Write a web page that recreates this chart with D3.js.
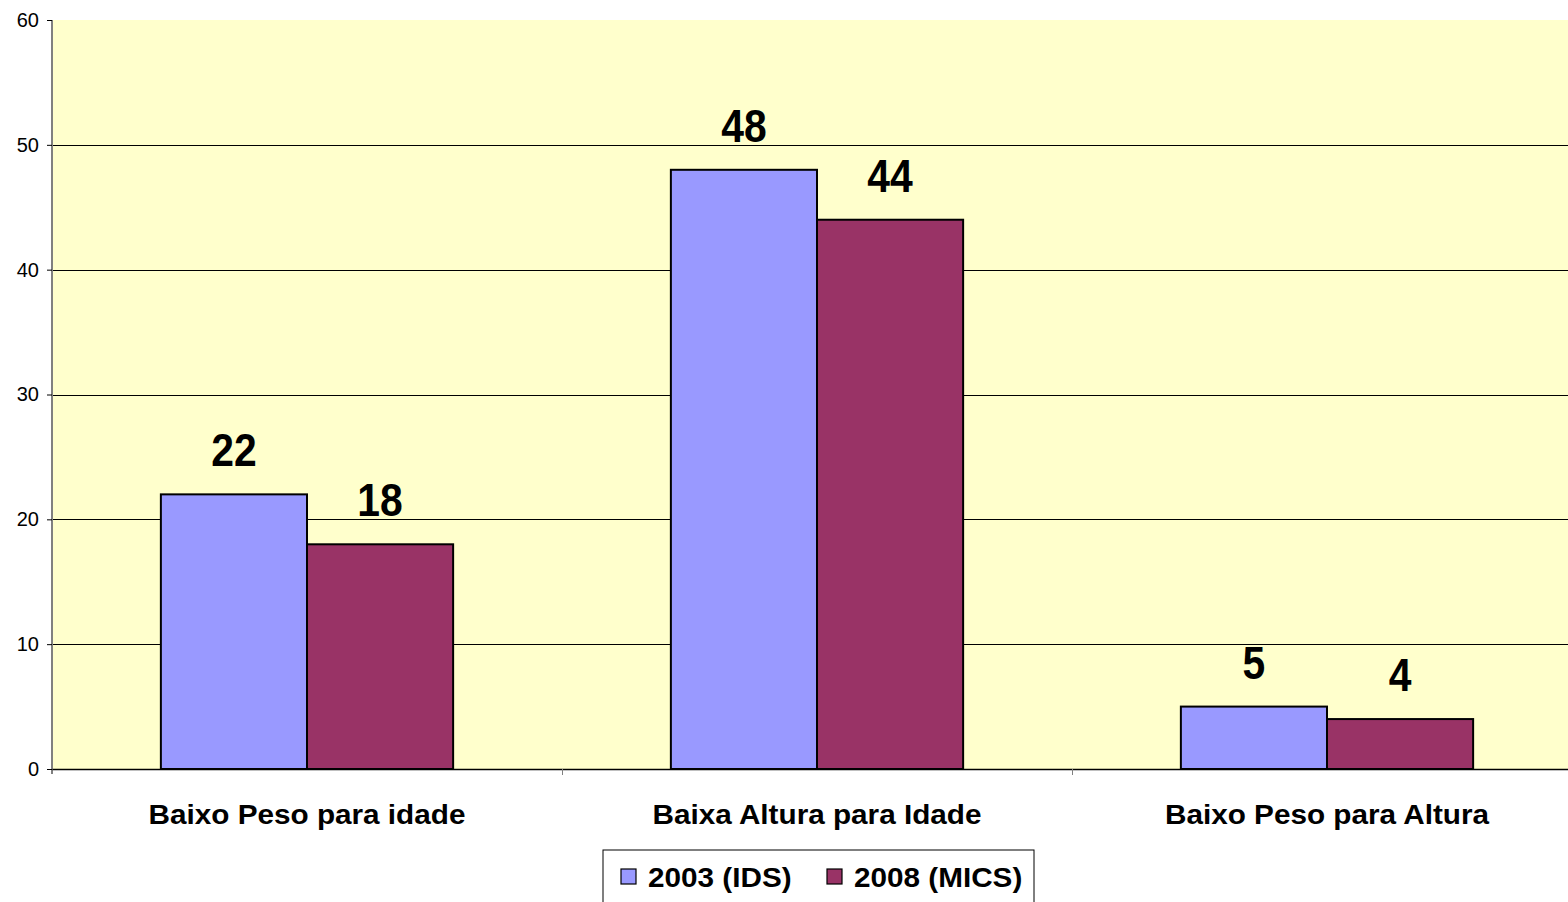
<!DOCTYPE html>
<html>
  <head>
    <meta charset="utf-8">
    <script src="https://d3js.org/d3.v7.min.js"></script>
    <style type="text/css">
      body { margin: 0; background: #fff; }
      svg { display: block; font-family: Arial, "Liberation Sans", sans-serif; }
    </style>
  </head>
  <body>
    <div id="chart"></div>
    <script type="text/javascript">
      var categories = ["Baixo Peso para idade", "Baixa Altura para Idade", "Baixo Peso para Altura"];
      var seriesNames = ["2003 (IDS)", "2008 (MICS)"];
      var values2003 = [22, 48, 5];
      var values2008 = [18, 44, 4];
      var yTicks = [0, 10, 20, 30, 40, 50, 60];
      var colors = ["#9999FF", "#993366"];

      var width = 1568, height = 902,
          margin = {top: 20, left: 52};
      // plot runs a bit past the right edge of the picture
      var plotW = 1530,
          plotH = 749;

      var svg = d3.select("#chart").append("svg")
        .attr("width", width)
        .attr("height", height);

      var g = svg.append("g")
        .attr("transform", "translate(" + margin.left + "," + margin.top + ")");

      var x0 = d3.scaleBand().domain(categories).range([0, plotW]);
      var x1 = d3.scaleBand().domain(seriesNames)
        .range([0, x0.bandwidth()]).paddingInner(0).paddingOuter(0.745);
      var y = d3.scaleLinear().domain([0, 60]).range([plotH, 0]);

      g.append("rect")
        .attr("width", plotW).attr("height", plotH)
        .attr("fill", "#FFFFCC");

      // gridlines
      g.selectAll(".grid").data(yTicks.filter(function(d) { return d > 0 && d < 60; }))
        .enter().append("line")
        .attr("x1", 0).attr("x2", plotW)
        .attr("y1", function(d) { return Math.round(y(d)) + 0.5; })
        .attr("y2", function(d) { return Math.round(y(d)) + 0.5; })
        .attr("stroke", "#000").attr("stroke-width", 1);

      var rows = categories.map(function(c, i) {
        return {cat: c, vals: [values2003[i], values2008[i]]};
      });

      var groups = g.selectAll(".grp").data(rows).enter().append("g")
        .attr("transform", function(d) { return "translate(" + x0(d.cat) + ",0)"; });

      groups.selectAll("rect").data(function(d) {
          return d.vals.map(function(v, k) { return {s: seriesNames[k], v: v, k: k}; });
        })
        .enter().append("rect")
        .attr("x", function(d) { return x1(d.s); })
        .attr("y", function(d) { return y(d.v); })
        .attr("width", x1.bandwidth())
        .attr("height", function(d) { return y(0) - y(d.v); })
        .attr("fill", function(d) { return colors[d.k]; })
        .attr("stroke", "#000").attr("stroke-width", 2);

      groups.selectAll("text.val").data(function(d) {
          return d.vals.map(function(v, k) { return {s: seriesNames[k], v: v}; });
        })
        .enter().append("text")
        .attr("class", "val")
        .attr("transform", function(d) {
          return "translate(" + (x1(d.s) + x1.bandwidth() / 2) + "," + (y(d.v) - 28) + ") scale(0.95,1.08)";
        })
        .attr("text-anchor", "middle")
        .attr("font-size", 43).attr("font-weight", "bold")
        .text(function(d) { return d.v; });

      // y axis
      var yAxis = g.append("g")
        .call(d3.axisLeft(y).tickValues(yTicks).tickSize(5).tickPadding(8));
      yAxis.select(".domain").attr("stroke", "#808080").attr("stroke-width", 2)
        .attr("d", "M0," + (plotH + 5) + "V0");
      yAxis.selectAll(".tick line").attr("stroke", "#000");
      yAxis.selectAll(".tick text").attr("font-size", 20).attr("fill", "#000")
        .attr("font-family", "Arial, 'Liberation Sans', sans-serif");

      // x axis
      var xAxis = g.append("g")
        .attr("transform", "translate(0," + plotH + ")")
        .call(d3.axisBottom(x0).tickSize(0).tickPadding(36));
      xAxis.select(".domain").attr("stroke", "#000").attr("stroke-width", 1.5);
      xAxis.selectAll(".tick text").attr("font-size", 27).attr("font-weight", "bold")
        .attr("transform", "scale(1.1,1)")
        .attr("fill", "#000").attr("font-family", "Arial, 'Liberation Sans', sans-serif");

      g.selectAll(".xtick").data(categories.slice(1))
        .enter().append("line")
        .attr("x1", function(d) { return Math.round(x0(d)) + 0.5; })
        .attr("x2", function(d) { return Math.round(x0(d)) + 0.5; })
        .attr("y1", plotH).attr("y2", plotH + 6)
        .attr("stroke", "#808080");

      // legend
      var legend = svg.append("g").attr("transform", "translate(603,850)");
      legend.append("rect")
        .attr("width", 431).attr("height", 60)
        .attr("fill", "#fff").attr("stroke", "#000").attr("stroke-width", 1);
      var items = legend.selectAll(".item").data(seriesNames).enter().append("g")
        .attr("transform", function(d, i) { return "translate(" + (18 + i * 206) + ",0)"; });
      items.append("rect")
        .attr("y", 19).attr("width", 15).attr("height", 15)
        .attr("fill", function(d, i) { return colors[i]; })
        .attr("stroke", "#000").attr("stroke-width", 1.2);
      items.append("text")
        .attr("transform", "translate(27,37) scale(1.1,1)")
        .attr("font-size", 27).attr("font-weight", "bold")
        .text(function(d) { return d; });
    </script>
  </body>
</html>
